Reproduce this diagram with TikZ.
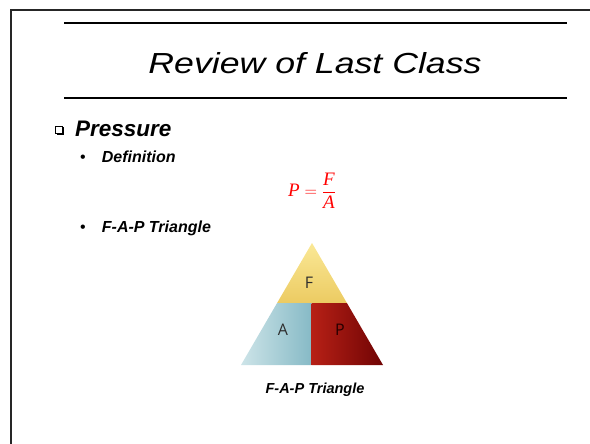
\documentclass[tikz,border=0pt]{standalone}
\usepackage{fontspec}
\setmainfont{Liberation Sans}
\newfontfamily\letterfont{Open Sans}
\newfontfamily\formfont{Liberation Serif}
\definecolor{fTop}{RGB}{250,232,150}
\definecolor{fBot}{RGB}{236,203,98}
\definecolor{aLeft}{RGB}{205,228,232}
\definecolor{aRight}{RGB}{135,186,198}
\definecolor{pLeft}{RGB}{182,32,22}
\definecolor{pRight}{RGB}{112,4,4}
\definecolor{letterc}{RGB}{45,45,45}
\tikzset{
  rulestyle/.style={line width=1.8pt, black},
  framestyle/.style={line width=2pt, black!85},
  bodytext/.style={anchor=base west, inner sep=0pt, font=\fontsize{16}{19}\selectfont\bfseries\itshape},
  bulletmark/.style={anchor=base west, inner sep=0pt, font=\fontsize{16}{19}\selectfont},
  tletter/.style={inner sep=0pt, text=letterc, font=\letterfont\fontsize{16}{18}\selectfont},
}
\begin{document}
\begin{tikzpicture}[x=1pt,y=-1pt]
\useasboundingbox (0,0) rectangle (590,444);
% frame
\draw[framestyle] (11,446) -- (11,10) -- (592,10);
% title rules
\draw[rulestyle] (64,23) -- (566.5,23);
\draw[rulestyle] (64,98) -- (566.5,98);
\node[anchor=base, inner sep=0pt, font=\fontsize{29}{35}\selectfont\itshape] (title) at (315,74) {\scalebox{1.23}[1]{Review of Last Class}};
% checkbox bullet
\draw[line width=0.8pt] (55.5,126.5) rectangle (62.5,133.5);
\fill (56.5,133.5) rectangle (64.2,135.2);
\fill (62.5,127.5) rectangle (64.2,135.2);
\node[anchor=base west, inner sep=0pt, font=\fontsize{22.5}{26}\selectfont\bfseries\itshape] (pressure) at (75,136.7) {Pressure};
% bullets
\node[bulletmark] (b1) at (80,162.7) {•};
\node[bodytext] (def) at (101.7,162.7) {Definition};
\node[bulletmark] (b2) at (80,233) {•};
\node[bodytext] (fap) at (101.7,233) {F-A-P Triangle};
% formula
\node[anchor=base, inner sep=0pt, text=red, font=\formfont\fontsize{19}{22}\selectfont] (formula) at (312,196.7)
  {$\displaystyle \textit{P}=\frac{\textit{F}}{\textit{A}}$};
% triangle
\coordinate (apex) at (312,243);
\coordinate (bl) at (241,365);
\coordinate (br) at (383,365);
\coordinate (ml) at (277.1,303);
\coordinate (mr) at (346.9,303);
\coordinate (mm) at (311.5,303);
\coordinate (bm) at (311.5,365);
\shade[top color=fTop, bottom color=fBot] (apex) -- (mr) -- (ml) -- cycle;
\shade[left color=aLeft, right color=aRight] (ml) -- (mm) -- (bm) -- (bl) -- cycle;
\shade[left color=pLeft, right color=pRight] (mm) -- (mr) -- (br) -- (bm) -- cycle;
\node[tletter] (lf) at (309,283) {F};
\node[tletter] (la) at (283,330) {A};
\node[tletter, text=black!85!red] (lp) at (340,330) {P};
% caption
\node[anchor=base, inner sep=0pt, font=\fontsize{14.5}{17}\selectfont\bfseries\itshape] (caption) at (315,393) {F-A-P Triangle};
\end{tikzpicture}
\end{document}
